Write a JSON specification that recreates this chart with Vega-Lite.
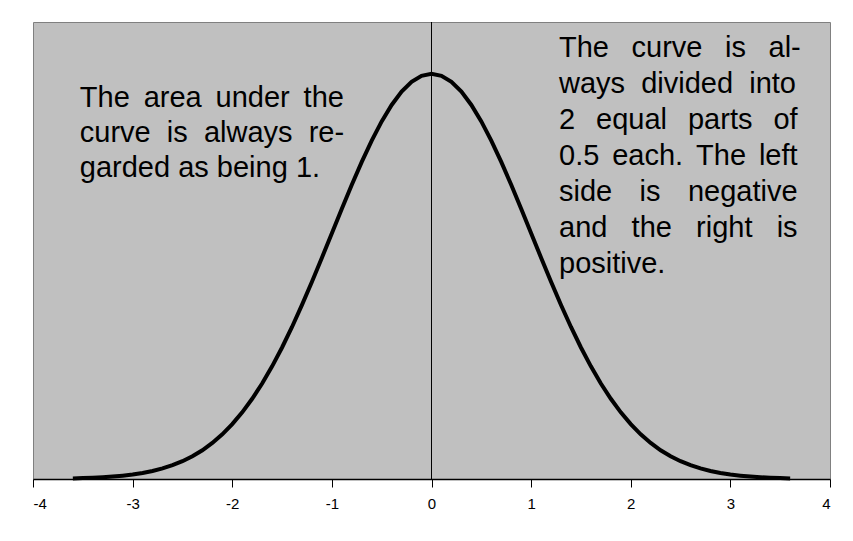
{
  "$schema": "https://vega.github.io/schema/vega-lite/v6.json",
  "width": 797,
  "height": 457,
  "autosize": {"type": "none"},
  "padding": {"left": 33, "top": 22, "right": 23, "bottom": 62},
  "background": "white",
  "config": {
    "view": {"fill": "#C0C0C0", "stroke": "#808080", "strokeWidth": 1},
    "font": "Liberation Sans"
  },
  "datasets": {
    "curve": [
      {"z": -3.6, "d": 0.0006}, {"z": -3.5, "d": 0.0009}, {"z": -3.4, "d": 0.0012}, {"z": -3.3, "d": 0.0017},
      {"z": -3.2, "d": 0.0024}, {"z": -3.1, "d": 0.0033}, {"z": -3.0, "d": 0.0044}, {"z": -2.9, "d": 0.0060},
      {"z": -2.8, "d": 0.0079}, {"z": -2.7, "d": 0.0104}, {"z": -2.6, "d": 0.0136}, {"z": -2.5, "d": 0.0175},
      {"z": -2.4, "d": 0.0224}, {"z": -2.3, "d": 0.0283}, {"z": -2.2, "d": 0.0355}, {"z": -2.1, "d": 0.0440},
      {"z": -2.0, "d": 0.0540}, {"z": -1.9, "d": 0.0656}, {"z": -1.8, "d": 0.0790}, {"z": -1.7, "d": 0.0940},
      {"z": -1.6, "d": 0.1109}, {"z": -1.5, "d": 0.1295}, {"z": -1.4, "d": 0.1497}, {"z": -1.3, "d": 0.1714},
      {"z": -1.2, "d": 0.1942}, {"z": -1.1, "d": 0.2179}, {"z": -1.0, "d": 0.2420}, {"z": -0.9, "d": 0.2661},
      {"z": -0.8, "d": 0.2897}, {"z": -0.7, "d": 0.3123}, {"z": -0.6, "d": 0.3332}, {"z": -0.5, "d": 0.3521},
      {"z": -0.4, "d": 0.3683}, {"z": -0.3, "d": 0.3814}, {"z": -0.2, "d": 0.3910}, {"z": -0.1, "d": 0.3970},
      {"z": 0.0, "d": 0.3989},
      {"z": 0.1, "d": 0.3970}, {"z": 0.2, "d": 0.3910}, {"z": 0.3, "d": 0.3814}, {"z": 0.4, "d": 0.3683},
      {"z": 0.5, "d": 0.3521}, {"z": 0.6, "d": 0.3332}, {"z": 0.7, "d": 0.3123}, {"z": 0.8, "d": 0.2897},
      {"z": 0.9, "d": 0.2661}, {"z": 1.0, "d": 0.2420}, {"z": 1.1, "d": 0.2179}, {"z": 1.2, "d": 0.1942},
      {"z": 1.3, "d": 0.1714}, {"z": 1.4, "d": 0.1497}, {"z": 1.5, "d": 0.1295}, {"z": 1.6, "d": 0.1109},
      {"z": 1.7, "d": 0.0940}, {"z": 1.8, "d": 0.0790}, {"z": 1.9, "d": 0.0656}, {"z": 2.0, "d": 0.0540},
      {"z": 2.1, "d": 0.0440}, {"z": 2.2, "d": 0.0355}, {"z": 2.3, "d": 0.0283}, {"z": 2.4, "d": 0.0224},
      {"z": 2.5, "d": 0.0175}, {"z": 2.6, "d": 0.0136}, {"z": 2.7, "d": 0.0104}, {"z": 2.8, "d": 0.0079},
      {"z": 2.9, "d": 0.0060}, {"z": 3.0, "d": 0.0044}, {"z": 3.1, "d": 0.0033}, {"z": 3.2, "d": 0.0024},
      {"z": 3.3, "d": 0.0017}, {"z": 3.4, "d": 0.0012}, {"z": 3.5, "d": 0.0009}, {"z": 3.6, "d": 0.0006}
    ],
    "notes": [{"side": "left"}]
  },
  "layer": [
    {
      "data": {"name": "notes"},
      "mark": {"type": "rule", "color": "black", "strokeWidth": 1},
      "encoding": {
        "x": {"datum": 0, "type": "quantitative"}
      }
    },
    {
      "data": {"name": "curve"},
      "mark": {"type": "line", "color": "black", "strokeWidth": 4, "interpolate": "linear"},
      "encoding": {
        "x": {
          "field": "z", "type": "quantitative",
          "scale": {"domain": [-4, 4], "nice": false, "zero": false},
          "axis": {
            "values": [-4, -3, -2, -1, 0, 1, 2, 3, 4],
            "labelExpr": "'' + datum.value",
            "title": null,
            "grid": false,
            "domainColor": "black",
            "domainWidth": 1.5,
            "tickColor": "black",
            "tickWidth": 1,
            "tickSize": 8,
            "labelPadding": 9,
            "labelFontSize": 15,
            "labelColor": "black",
            "labelFont": "Liberation Sans"
          }
        },
        "y": {
          "field": "d", "type": "quantitative",
          "scale": {"domain": [0, 0.45], "nice": false},
          "axis": null
        }
      }
    },
    {
      "data": {"name": "notes"},
      "mark": {
        "type": "text",
        "text": ["The \u2009area \u2009under \u2009the", "curve \u00a0is \u00a0always \u00a0re-", "garded as being 1."],
        "align": "left",
        "baseline": "alphabetic",
        "fontSize": 29,
        "lineHeight": 35,
        "color": "black",
        "font": "Liberation Sans"
      },
      "encoding": {
        "x": {"datum": -3.53, "type": "quantitative"},
        "y": {"datum": 0.366, "type": "quantitative"}
      }
    },
    {
      "data": {"name": "notes"},
      "mark": {
        "type": "text",
        "text": ["The \u2002curve \u2002is \u2002al-", "ways \u00a0divided \u00a0into", "2 \u00a0\u2006equal \u00a0\u2006parts \u00a0\u2006of", "0.5 \u2006each. \u2006The \u2006left", "side \u2002\u2006is \u2002\u2006negative", "and \u00a0\u00a0the \u00a0\u00a0right \u00a0\u00a0is", "positive."],
        "align": "left",
        "baseline": "alphabetic",
        "fontSize": 29,
        "lineHeight": 36,
        "color": "black",
        "font": "Liberation Sans"
      },
      "encoding": {
        "x": {"datum": 1.28, "type": "quantitative"},
        "y": {"datum": 0.4155, "type": "quantitative"}
      }
    }
  ]
}
